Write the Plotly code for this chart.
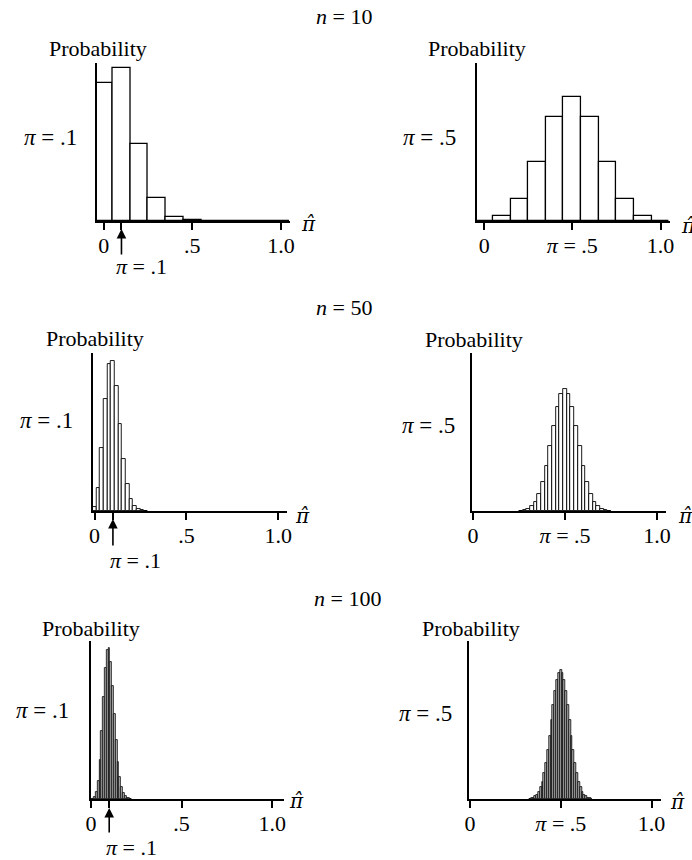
import plotly.graph_objects as go

W, H = 692, 860
FONT = "Liberation Serif"

# ---------------- data ----------------
# n = 10
phat_n10 = [0.0, 0.1, 0.2, 0.3, 0.4, 0.5, 0.6, 0.7, 0.8, 0.9, 1.0]
prob_n10_pi1 = [0.3487, 0.3874, 0.1937, 0.0574, 0.0112, 0.0015, 0.0001, 0.0, 0.0, 0.0, 0.0]
prob_n10_pi5 = [0.0010, 0.0098, 0.0439, 0.1172, 0.2051, 0.2461, 0.2051, 0.1172, 0.0439, 0.0098, 0.0010]

# n = 50
phat_n50_pi1 = [0.00, 0.02, 0.04, 0.06, 0.08, 0.10, 0.12, 0.14, 0.16, 0.18, 0.20, 0.22, 0.24, 0.26, 0.28]
prob_n50_pi1 = [0.0052, 0.0286, 0.0779, 0.1386, 0.1809, 0.1849, 0.1541, 0.1076, 0.0643, 0.0333,
                0.0152, 0.0061, 0.0022, 0.0007, 0.0002]
phat_n50_pi5 = [0.26, 0.28, 0.30, 0.32, 0.34, 0.36, 0.38, 0.40, 0.42, 0.44, 0.46, 0.48, 0.50,
                0.52, 0.54, 0.56, 0.58, 0.60, 0.62, 0.64, 0.66, 0.68, 0.70, 0.72, 0.74]
prob_n50_pi5 = [0.0003, 0.0008, 0.0020, 0.0044, 0.0087, 0.0160, 0.0270, 0.0419, 0.0598, 0.0788,
                0.0960, 0.1080, 0.1123, 0.1080, 0.0960, 0.0788, 0.0598, 0.0419, 0.0270, 0.0160,
                0.0087, 0.0044, 0.0020, 0.0008, 0.0003]

# n = 100
phat_n100_pi1 = [0.00, 0.01, 0.02, 0.03, 0.04, 0.05, 0.06, 0.07, 0.08, 0.09, 0.10, 0.11,
                 0.12, 0.13, 0.14, 0.15, 0.16, 0.17, 0.18, 0.19, 0.20, 0.21, 0.22]
prob_n100_pi1 = [0.0000, 0.0003, 0.0016, 0.0059, 0.0159, 0.0339, 0.0596, 0.0889, 0.1148, 0.1304,
                 0.1319, 0.1199, 0.0988, 0.0743, 0.0513, 0.0327, 0.0193, 0.0106, 0.0054, 0.0026,
                 0.0012, 0.0005, 0.0002]
phat_n100_pi5 = [0.33, 0.34, 0.35, 0.36, 0.37, 0.38, 0.39, 0.40, 0.41, 0.42, 0.43, 0.44,
                 0.45, 0.46, 0.47, 0.48, 0.49, 0.50, 0.51, 0.52, 0.53, 0.54, 0.55, 0.56,
                 0.57, 0.58, 0.59, 0.60, 0.61, 0.62, 0.63, 0.64, 0.65, 0.66, 0.67]
prob_n100_pi5 = [0.0002, 0.0005, 0.0009, 0.0016, 0.0027, 0.0045, 0.0071, 0.0108, 0.0159, 0.0223,
                 0.0301, 0.0390, 0.0485, 0.0580, 0.0666, 0.0735, 0.0780, 0.0796, 0.0780, 0.0735,
                 0.0666, 0.0580, 0.0485, 0.0390, 0.0301, 0.0223, 0.0159, 0.0108, 0.0071, 0.0045,
                 0.0027, 0.0016, 0.0009, 0.0005, 0.0002]

tick_vals_pi1 = [0, 0.1, 0.5, 1.0]
tick_text_pi1 = ["0", "", ".5", "1.0"]
tick_vals_pi5 = [0, 0.5, 1.0]
tick_text_pi5 = ["0", "<i>π</i> = .5", "1.0"]

# ---------------- layout per panel ----------------
# (x, y, bar width, fill, line width, left px, right px, x range, top px, bottom px, ymax, pi)
panels = [
    (phat_n10, prob_n10_pi1, 0.1, "white", 1.3, 93, 289, [-0.04, 1.05], 63, 221, 0.399, 1),
    (phat_n10, prob_n10_pi5, 0.1, "white", 1.3, 479, 675, [-0.04, 1.055], 63, 221, 0.313, 5),
    (phat_n50_pi1, prob_n50_pi1, 0.02, "white", 0.9, 89, 286, [-0.01, 1.047], 353, 511, 0.195, 1),
    (phat_n50_pi5, prob_n50_pi5, 0.02, "white", 0.9, 474, 671, [-0.005, 1.05], 353, 511, 0.146, 5),
    (phat_n100_pi1, prob_n100_pi1, 0.01, "#b8b8b8", 0.8, 87, 283, [-0.002, 1.065], 641, 799, 0.138, 1),
    (phat_n100_pi5, prob_n100_pi5, 0.01, "#b8b8b8", 0.8, 471, 666, [-0.005, 1.054], 641, 799, 0.0975, 5),
]

fig = go.Figure()
layout_axes = {}
for i, (xs, ys, bw, fill, lw, lpx, rpx, xr, tpx, bpx, ymax, pi) in enumerate(panels, start=1):
    xa = "x" if i == 1 else f"x{i}"
    ya = "y" if i == 1 else f"y{i}"
    fig.add_trace(go.Bar(
        x=xs, y=ys, width=bw, xaxis=xa, yaxis=ya,
        marker=dict(color=fill, line=dict(color="black", width=lw)),
        showlegend=False, hoverinfo="x+y",
    ))
    xkey = "xaxis" if i == 1 else f"xaxis{i}"
    ykey = "yaxis" if i == 1 else f"yaxis{i}"
    layout_axes[xkey] = dict(
        domain=[lpx / W, rpx / W], range=xr, anchor=ya,
        showline=True, linecolor="black", linewidth=1.8, mirror=False,
        showgrid=False, zeroline=False,
        ticks="outside", ticklen=7, tickwidth=1.5, tickcolor="black",
        tickvals=tick_vals_pi1 if pi == 1 else tick_vals_pi5,
        ticktext=tick_text_pi1 if pi == 1 else tick_text_pi5,
        tickfont=dict(family=FONT, size=22, color="black"),
        ticklabelstandoff=-3,
        fixedrange=True,
    )
    layout_axes[ykey] = dict(
        domain=[1 - bpx / H, 1 - tpx / H], range=[0, ymax], anchor=xa,
        showline=True, linecolor="black", linewidth=1.5,
        showgrid=False, zeroline=False, showticklabels=False, ticks="",
        fixedrange=True,
    )

anns = []


def ann(text, xpx, ypx, xanchor="center", size=22, family=FONT):
    anns.append(dict(
        text=text, x=xpx / W, y=1 - ypx / H, xref="paper", yref="paper",
        xanchor=xanchor, yanchor="middle", showarrow=False,
        font=dict(family=family, size=size, color="black"),
    ))


def pihat(xpx, ypx):
    # pi with a combining circumflex (DejaVu positions the mark over the letter)
    ann("<i>π̂</i>", xpx, ypx, size=20, family="DejaVu Serif")


# sample size headers
ann("<i>n</i> = 10", 344, 17)
ann("<i>n</i> = 50", 344, 308)
ann("<i>n</i> = 100", 348, 598)

# Probability labels
for xpx, ypx in [(94, 49), (479, 49), (91, 338), (476, 339), (87, 628), (473, 628)]:
    ann("Probability", xpx, ypx)

# left pi labels
ann("<i>π</i> = .1", 46, 137, size=23)
ann("<i>π</i> = .5", 431, 137, size=23)
ann("<i>π</i> = .1", 42, 420, size=23)
ann("<i>π</i> = .5", 430, 425, size=23)
ann("<i>π</i> = .1", 38, 710, size=23)
ann("<i>π</i> = .5", 427, 713, size=23)

# pi-hat axis labels
pihat(308, 224)
pihat(694, 226)
pihat(302, 516)
pihat(690, 516)
pihat(296, 801)
pihat(682, 802)

# pi = .1 labels under arrows
ann("<i>π</i> = .1", 138, 267)
ann("<i>π</i> = .1", 132, 560)
ann("<i>π</i> = .1", 128, 847)

# arrows pointing at pi = .1
for xa, head_px, tail_px in [("x", 229, 256), ("x3", 519, 547), ("x5", 808, 834)]:
    anns.append(dict(
        x=0.1, y=1 - head_px / H, xref=xa, yref="paper",
        ax=0, ay=tail_px - head_px, axref="pixel", ayref="pixel",
        text="", showarrow=True, arrowhead=2, arrowsize=1.2, arrowwidth=1.6,
        arrowcolor="black",
    ))

fig.update_layout(
    width=W, height=H,
    margin=dict(l=0, r=0, t=0, b=0),
    paper_bgcolor="white", plot_bgcolor="white",
    bargap=0, barmode="overlay",
    annotations=anns,
    **layout_axes,
)

fig.write_html("out.html", config={"displayModeBar": False},
               post_script="document.body.style.margin='0';")
